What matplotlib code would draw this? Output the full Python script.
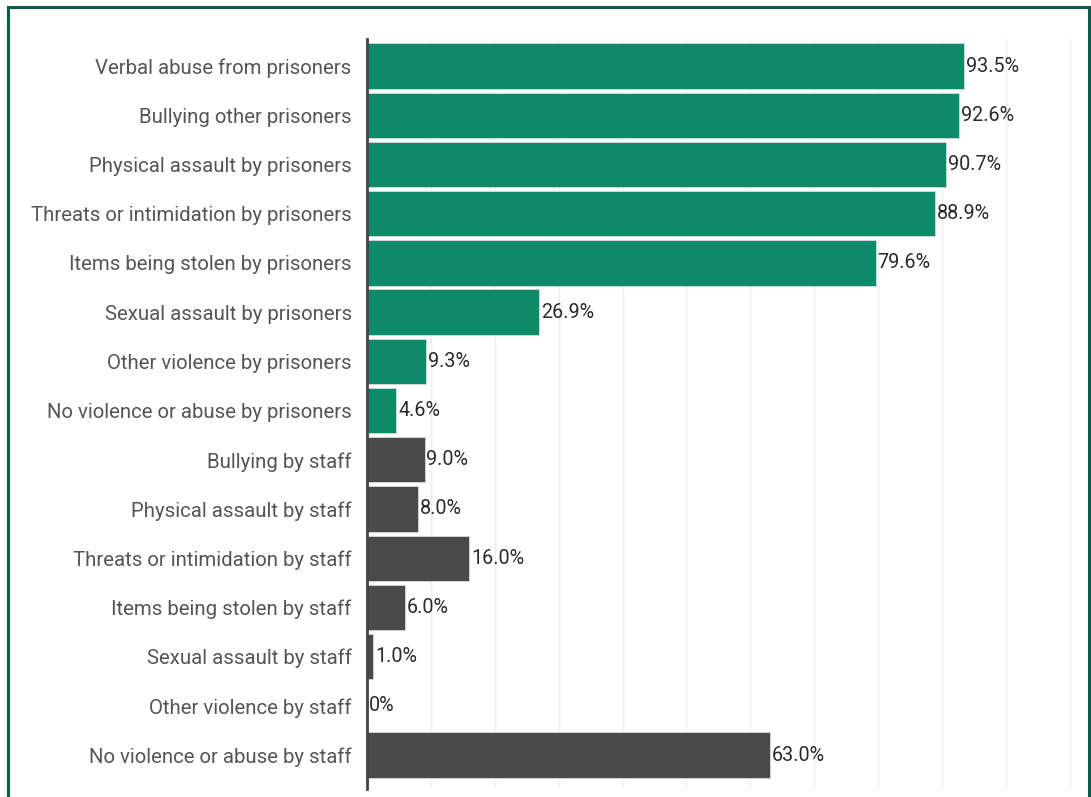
import matplotlib
matplotlib.use("Agg")
import matplotlib.pyplot as plt
from matplotlib.patches import Rectangle

categories = [
    "Verbal abuse from prisoners",
    "Bullying other prisoners",
    "Physical assault by prisoners",
    "Threats or intimidation by prisoners",
    "Items being stolen by prisoners",
    "Sexual assault by prisoners",
    "Other violence by prisoners",
    "No violence or abuse by prisoners",
    "Bullying by staff",
    "Physical assault by staff",
    "Threats or intimidation by staff",
    "Items being stolen by staff",
    "Sexual assault by staff",
    "Other violence by staff",
    "No violence or abuse by staff",
]
values = [93.5, 92.6, 90.7, 88.9, 79.6, 26.9, 9.3, 4.6,
          9.0, 8.0, 16.0, 6.0, 1.0, 0.0, 63.0]
labels = ["93.5%", "92.6%", "90.7%", "88.9%", "79.6%", "26.9%", "9.3%", "4.6%",
          "9.0%", "8.0%", "16.0%", "6.0%", "1.0%", "0%", "63.0%"]
groups = ["prisoners"] * 8 + ["staff"] * 7
group_colors = {"prisoners": "#0c8a69", "staff": "#4a4a4a"}

plt.rcParams["font.family"] = ["Roboto", "DejaVu Sans"]

W, H = 1091, 797
fig = plt.figure(figsize=(W / 100, H / 100), dpi=100)

# axes placement in pixels
ax_left, ax_right = 367, 1080
ax_top, ax_bottom = 39, 789
ax = fig.add_axes([ax_left / W, 1 - ax_bottom / H, (ax_right - ax_left) / W, (ax_bottom - ax_top) / H])

y = list(range(len(categories)))
colors = [group_colors[g] for g in groups]
ax.barh(y, values, height=0.92, color=colors, edgecolor="#d9d9d9", linewidth=0.6, zorder=2)

for yi, v, lab in zip(y, values, labels):
    ax.text(v + 0.3, yi, lab, va="center", ha="left", fontsize=14.2, color="#2a2a2a", zorder=3)

ax.set_xlim(0, 111.6)
ax.set_ylim(len(categories) - 1 + 0.69, -0.55)
ax.set_yticks(y)
ax.set_yticklabels(categories, fontsize=14.7, color="#555555")
ax.tick_params(axis="y", length=0, pad=11)
ax.set_xticks(range(10, 111, 10))
ax.tick_params(axis="x", length=0, labelbottom=False)
ax.grid(axis="x", color="#ececec", linewidth=1, zorder=0)
ax.grid(axis="y", visible=False)
for s in ["top", "right", "bottom"]:
    ax.spines[s].set_visible(False)
ax.spines["left"].set_color("#444444")
ax.spines["left"].set_linewidth(2)
ax.spines["left"].set_zorder(4)

# figure border
fig.patches.append(Rectangle((8 / W, -0.05), (1089 - 8) / W, 1.05 - 7 / H,
                             transform=fig.transFigure, fill=False,
                             edgecolor="#0d5c47", linewidth=2.2))

fig.savefig("out.png", dpi=100)
